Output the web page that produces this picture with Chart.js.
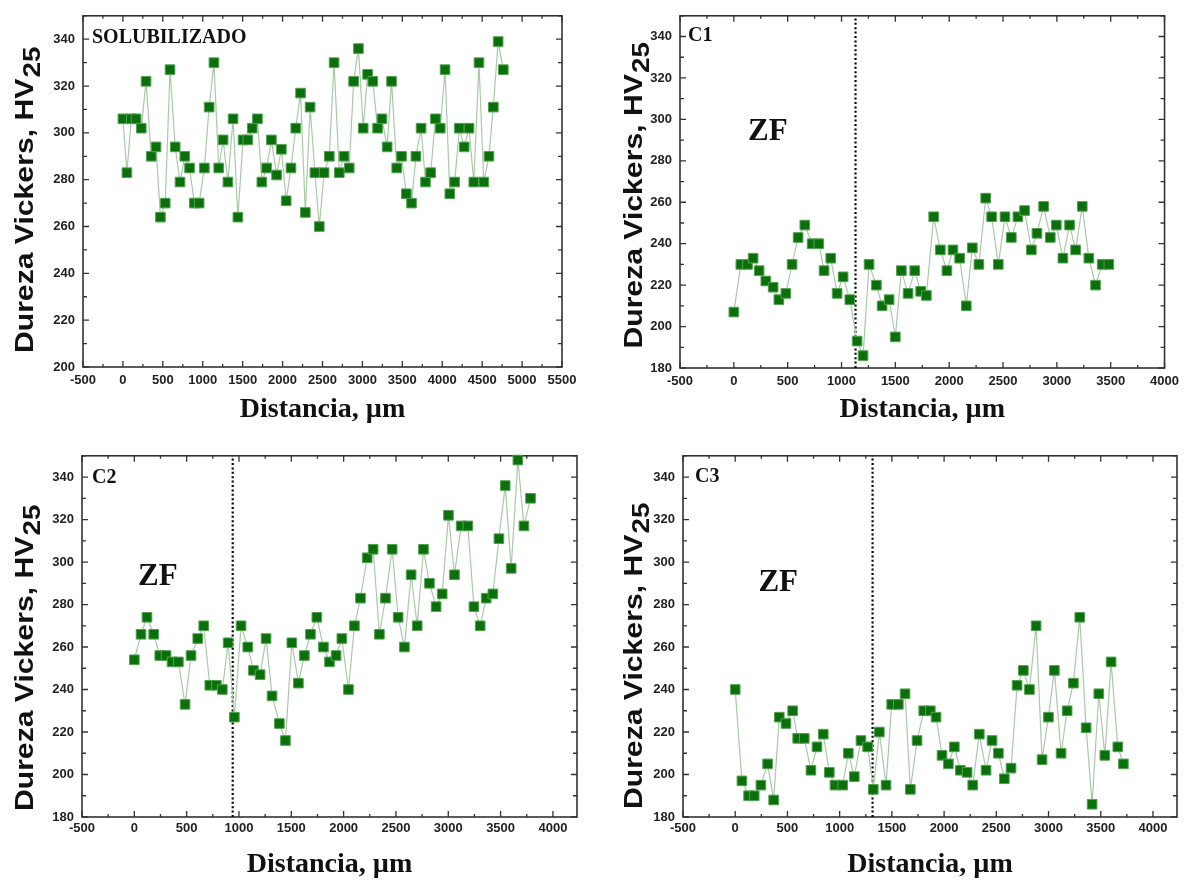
<!DOCTYPE html>
<html>
<head>
<meta charset="utf-8">
<title>Dureza Vickers HV25</title>
<script src="https://cdn.jsdelivr.net/npm/chart.js@4.4.1/dist/chart.umd.min.js"></script>
<style>
  html, body { margin: 0; padding: 0; background: #fff; }
  body { width: 1185px; height: 883px; position: relative; overflow: hidden; }
  canvas { position: absolute; }
</style>
</head>
<body>
<canvas id="solub" width="592" height="440" style="left:0;top:0"></canvas>
<canvas id="c1" width="593" height="440" style="left:592px;top:0"></canvas>
<canvas id="c2" width="592" height="443" style="left:0;top:440px"></canvas>
<canvas id="c3" width="593" height="443" style="left:592px;top:440px"></canvas>
<script>
// Perfiles de microdureza: distancia (um) y dureza HV25
var solubX = [0, 50, 105, 165, 230, 290, 355, 415, 470, 530, 590, 655, 715, 775, 835, 895, 955, 1020, 1080, 1140,
  1200, 1255, 1315, 1380, 1440, 1505, 1565, 1620, 1685, 1740, 1800, 1860, 1925, 1985, 2045, 2105, 2165, 2225, 2285, 2345,
  2405, 2460, 2520, 2585, 2645, 2710, 2770, 2835, 2890, 2950, 3010, 3065, 3130, 3190, 3245, 3310, 3365, 3430, 3490, 3550,
  3615, 3670, 3735, 3790, 3855, 3915, 3975, 4035, 4095, 4155, 4215, 4275, 4335, 4395, 4460, 4520, 4585, 4640, 4700, 4765];
var solubHV = [306, 283, 306, 306, 302, 322, 290, 294, 264, 270, 327, 294, 279, 290, 285, 270, 270, 285, 311, 330,
  285, 297, 279, 306, 264, 297, 297, 302, 306, 279, 285, 297, 282, 293, 271, 285, 302, 317, 266, 311,
  283, 260, 283, 290, 330, 283, 290, 285, 322, 336, 302, 325, 322, 302, 306, 294, 322, 285, 290, 274,
  270, 290, 302, 279, 283, 306, 302, 327, 274, 279, 302, 294, 302, 279, 330, 279, 290, 311, 339, 327];

var c1X = [0, 65, 127, 179, 235, 297, 365, 418, 483, 541, 597, 659, 727, 789, 838, 900, 959, 1015, 1077, 1145,
  1200, 1256, 1324, 1377, 1442, 1500, 1556, 1618, 1680, 1735, 1788, 1856, 1918, 1979, 2035, 2097, 2159, 2215, 2276, 2339,
  2394, 2456, 2518, 2577, 2638, 2700, 2763, 2815, 2877, 2939, 2995, 3056, 3118, 3174, 3236, 3297, 3359, 3421, 3483];
var c1HV = [207, 230, 230, 233, 227, 222, 219, 213, 216, 230, 243, 249, 240, 240, 227, 233, 216, 224, 213, 193,
  186, 230, 220, 210, 213, 195, 227, 216, 227, 217, 215, 253, 237, 227, 237, 233, 210, 238, 230, 262,
  253, 230, 253, 243, 253, 256, 237, 245, 258, 243, 249, 233, 249, 237, 258, 233, 220, 230, 230];

var c2X = [0, 64, 121, 185, 243, 303, 360, 421, 485, 542, 606, 663, 721, 784, 841, 896, 956, 1020, 1084, 1138,
  1202, 1259, 1316, 1386, 1444, 1505, 1568, 1625, 1683, 1744, 1807, 1865, 1928, 1983, 2046, 2103, 2161, 2225, 2282, 2342,
  2400, 2464, 2521, 2581, 2645, 2703, 2763, 2820, 2884, 2942, 3002, 3059, 3123, 3187, 3245, 3305, 3362, 3426, 3484, 3544,
  3601, 3665, 3723, 3786];
var c2HV = [254, 266, 274, 266, 256, 256, 253, 253, 233, 256, 264, 270, 242, 242, 240, 262, 227, 270, 260, 249,
  247, 264, 237, 224, 216, 262, 243, 256, 266, 274, 260, 253, 256, 264, 240, 270, 283, 302, 306, 266,
  283, 306, 274, 260, 294, 270, 306, 290, 279, 285, 322, 294, 317, 317, 279, 270, 283, 285, 311, 336,
  297, 348, 317, 330];

var c3X = [0, 64, 128, 182, 246, 310, 368, 422, 486, 550, 598, 661, 725, 783, 843, 901, 955, 1029, 1083, 1140,
  1204, 1268, 1322, 1380, 1444, 1498, 1562, 1626, 1677, 1741, 1805, 1868, 1923, 1980, 2041, 2098, 2156, 2220, 2274, 2337,
  2402, 2459, 2520, 2577, 2641, 2699, 2759, 2817, 2881, 2938, 2999, 3056, 3120, 3178, 3238, 3299, 3360, 3417, 3481, 3539,
  3599, 3663, 3717];
var c3HV = [240, 197, 190, 190, 195, 205, 188, 227, 224, 230, 217, 217, 202, 213, 219, 201, 195, 195, 210, 199,
  216, 213, 193, 220, 195, 233, 233, 238, 193, 216, 230, 230, 227, 209, 205, 213, 202, 201, 195, 219,
  202, 216, 210, 198, 203, 242, 249, 240, 270, 207, 227, 249, 210, 230, 243, 274, 222, 186, 238, 209,
  253, 213, 205];

// limite de la zona fundida (ZF) en cada cordon
var zfLimitC1 = 1130;
var zfLimitC2 = 940;
var zfLimitC3 = 1315;

// marcas con rotulo de los ejes
var xTicksSolub = [-500, 0, 500, 1000, 1500, 2000, 2500, 3000, 3500, 4000, 4500, 5000, 5500];
var xTicksCordon = [-500, 0, 500, 1000, 1500, 2000, 2500, 3000, 3500, 4000];
var yTicksSolub = [200, 220, 240, 260, 280, 300, 320, 340];
var yTicksCordon = [180, 200, 220, 240, 260, 280, 300, 320, 340];

var SANS = '"Liberation Sans", Arial, sans-serif';
var SERIF = '"Liberation Serif", "Times New Roman", serif';

// marco cerrado con marcas hacia dentro en los cuatro lados
var frameTicks = {
  id: 'frameTicks',
  beforeDatasetsDraw: function(chart) {
    var ctx = chart.ctx, a = chart.chartArea, sx = chart.scales.x, sy = chart.scales.y;
    var v, p, len;
    ctx.save();
    ctx.strokeStyle = '#333';
    ctx.lineWidth = 1.6;
    ctx.strokeRect(a.left, a.top, a.right - a.left, a.bottom - a.top);
    ctx.lineWidth = 1.3;
    ctx.beginPath();
    for (v = Math.ceil(sx.min / 250) * 250; v <= sx.max; v += 250) {
      p = sx.getPixelForValue(v);
      len = v % 500 === 0 ? 6 : 3;
      ctx.moveTo(p, a.bottom); ctx.lineTo(p, a.bottom - len);
      ctx.moveTo(p, a.top); ctx.lineTo(p, a.top + len);
    }
    for (v = Math.ceil(sy.min / 10) * 10; v <= sy.max; v += 10) {
      p = sy.getPixelForValue(v);
      len = v % 20 === 0 ? 6 : 4;
      ctx.moveTo(a.left, p); ctx.lineTo(a.left + len, p);
      ctx.moveTo(a.right, p); ctx.lineTo(a.right - len, p);
    }
    ctx.stroke();
    ctx.restore();
  }
};

// rotulo del panel, etiqueta ZF y titulo vertical con subindice
var panelText = {
  id: 'panelText',
  afterDraw: function(chart, args, o) {
    var ctx = chart.ctx, a = chart.chartArea;
    ctx.save();
    ctx.fillStyle = '#111';
    ctx.textBaseline = 'middle';
    ctx.textAlign = 'left';
    ctx.font = 'bold 20px ' + SERIF;
    ctx.fillText(o.tag, a.left + o.tagDx, a.top + o.tagDy);
    if (o.zf) {
      ctx.font = 'bold 31px ' + SERIF;
      ctx.textAlign = 'center';
      ctx.fillText('ZF', chart.scales.x.getPixelForValue(o.zf[0]), chart.scales.y.getPixelForValue(o.zf[1]));
    }
    // el titulo va algo estirado a lo largo del eje
    var main = 'Dureza Vickers, HV', sub = '25';
    var mainFont = 'bold 26px ' + SANS, subFont = 'bold 24px ' + SANS;
    ctx.font = mainFont;
    var wMain = ctx.measureText(main).width;
    ctx.font = subFont;
    var wSub = ctx.measureText(sub).width;
    ctx.translate(o.titleX, (a.top + a.bottom) / 2 + o.titleDy);
    ctx.rotate(-Math.PI / 2);
    ctx.scale(1.16, 1);
    ctx.textAlign = 'left';
    var start = -(wMain + wSub) / 2;
    ctx.font = mainFont;
    ctx.fillText(main, start, 0);
    ctx.font = subFont;
    ctx.fillText(sub, start + wMain + 1, 7);
    ctx.restore();
  }
};

function pairs(xs, ys) {
  return xs.map(function(x, i) { return { x: x, y: ys[i] }; });
}

function fixedTicks(values) {
  return function(s) {
    s.ticks = values.map(function(v) { return { value: v }; });
  };
}

function hardnessChart(id, p) {
  var datasets = [{
    data: pairs(p.xs, p.ys),
    borderColor: '#a9c9a9',
    borderWidth: 1.2,
    tension: 0,
    pointStyle: 'rect',
    pointRadius: 6.8,
    pointBackgroundColor: '#0b6f0b',
    pointBorderColor: '#4fa24f',
    pointBorderWidth: 1,
    clip: false
  }];
  if (p.limit !== undefined) {
    datasets.push({
      data: [{ x: p.limit, y: p.yMin }, { x: p.limit, y: p.yMax }],
      borderColor: '#000',
      borderWidth: 2.2,
      borderDash: [2, 2.4],
      pointRadius: 0
    });
  }
  return new Chart(document.getElementById(id), {
    type: 'line',
    data: { datasets: datasets },
    options: {
      responsive: false,
      animation: false,
      devicePixelRatio: 1,
      layout: { padding: { top: p.padTop, right: p.padRight, left: 0, bottom: 0 } },
      plugins: {
        legend: { display: false },
        tooltip: { enabled: false },
        panelText: p.text
      },
      scales: {
        x: {
          type: 'linear',
          min: p.xMin,
          max: p.xMax,
          grid: { display: false, drawTicks: false },
          border: { display: false },
          afterBuildTicks: fixedTicks(p.xTicks),
          ticks: {
            autoSkip: false,
            maxRotation: 0,
            padding: p.xTickPad,
            color: '#222',
            font: { family: SANS, size: 13, weight: 'bold' },
            callback: function(v) { return String(v); }
          },
          title: {
            display: true,
            text: 'Distancia, \u00b5m',
            color: '#111',
            font: { family: SERIF, size: 28, weight: 'bold' },
            padding: { top: 0, bottom: p.xTitlePad }
          },
          afterFit: function(s) { s.height = p.xAxisH; }
        },
        y: {
          min: p.yMin,
          max: p.yMax,
          grid: { display: false, drawTicks: false },
          border: { display: false },
          afterBuildTicks: fixedTicks(p.yTicks),
          ticks: {
            autoSkip: false,
            padding: 8,
            color: '#222',
            font: { family: SANS, size: 13, weight: 'bold' },
            callback: function(v) { return String(v); }
          },
          afterFit: function(s) { s.width = p.yAxisW; }
        }
      }
    },
    plugins: [frameTicks, panelText]
  });
}

hardnessChart('solub', {
  xs: solubX, ys: solubHV, xMin: -500, xMax: 5500, yMin: 200, yMax: 350,
  xTicks: xTicksSolub, yTicks: yTicksSolub,
  padTop: 10, padRight: 30, yAxisW: 83, xAxisH: 73, xTickPad: 6, xTitlePad: 13,
  text: { tag: 'SOLUBILIZADO', tagDx: 9, tagDy: 22, titleX: 26, titleDy: 9 }
});

hardnessChart('c1', {
  xs: c1X, ys: c1HV, limit: zfLimitC1, xMin: -500, xMax: 4000, yMin: 180, yMax: 350,
  xTicks: xTicksCordon, yTicks: yTicksCordon,
  padTop: 9, padRight: 20, yAxisW: 88, xAxisH: 72, xTickPad: 6, xTitlePad: 13,
  text: { tag: 'C1', tagDx: 8, tagDy: 20, zf: [316, 294], titleX: 43, titleDy: 4 }
});

hardnessChart('c2', {
  xs: c2X, ys: c2HV, limit: zfLimitC2, xMin: -500, xMax: 4230, yMin: 180, yMax: 350,
  xTicks: xTicksCordon, yTicks: yTicksCordon,
  padTop: 12, padRight: 15, yAxisW: 82, xAxisH: 66, xTickPad: 4, xTitlePad: 1,
  text: { tag: 'C2', tagDx: 10, tagDy: 22, zf: [224, 293], titleX: 26, titleDy: 22 }
});

hardnessChart('c3', {
  xs: c3X, ys: c3HV, limit: zfLimitC3, xMin: -500, xMax: 4230, yMin: 180, yMax: 350,
  xTicks: xTicksCordon, yTicks: yTicksCordon,
  padTop: 12, padRight: 8, yAxisW: 91, xAxisH: 66, xTickPad: 4, xTitlePad: 1,
  text: { tag: 'C3', tagDx: 12, tagDy: 21, zf: [412, 290], titleX: 43, titleDy: 20 }
});
</script>
</body>
</html>
